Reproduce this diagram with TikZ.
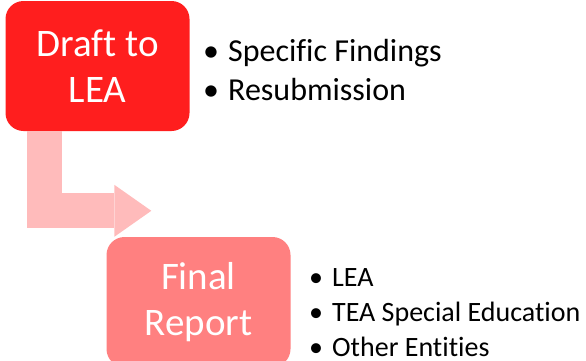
\documentclass[tikz,border=0pt]{standalone}
\usepackage{fontspec}
\setmainfont{Carlito}[Ligatures=NoCommon]
\usepackage{tikz}
\usetikzlibrary{positioning, arrows.meta}

\definecolor{draftred}{RGB}{255,30,30}
\definecolor{finalred}{RGB}{255,128,128}
\definecolor{flowpink}{RGB}{255,187,187}

\begin{document}
\begin{tikzpicture}[
            x=1pt, y=1pt,
            stage/.style={rectangle, rounded corners=18pt, minimum width=184pt, minimum height=130pt, inner sep=0pt, text=white, align=center, font=\fontsize{39}{46}\selectfont},
            bullets/.style={anchor=base west, inner sep=0pt, align=left},
            flow/.style={draw=flowpink, line width=35pt, line join=miter, -{Triangle[length=37pt, width=52pt, line width=0pt]}}
        ]
        \useasboundingbox (0,0) rectangle (586,360);

        % Stufen
        \node[stage, fill=draftred] (draft) at (97.5,294) {Draft to\\LEA};
        \node[stage, fill=finalred] (final) at (198.5,58) {Final\\Report};

        % Pfeil
        \draw[flow] ([xshift=-53pt]draft.south) |- ([xshift=45pt, yshift=26pt]final.north west);

        % Listen (base = letzte Zeile)
        \node[bullets, font=\fontsize{32}{39}\selectfont] (draftlist) at (203,260) {\makebox[25pt][l]{\textbullet}Specific Findings\\\makebox[25pt][l]{\textbullet}Resubmission};
        \node[bullets, font=\fontsize{28}{35}\selectfont] (finallist) at (309,4) {\makebox[23pt][l]{\textbullet}LEA\\\makebox[23pt][l]{\textbullet}TEA Special Education\\\makebox[23pt][l]{\textbullet}Other Entities};

    \end{tikzpicture}
\end{document}
